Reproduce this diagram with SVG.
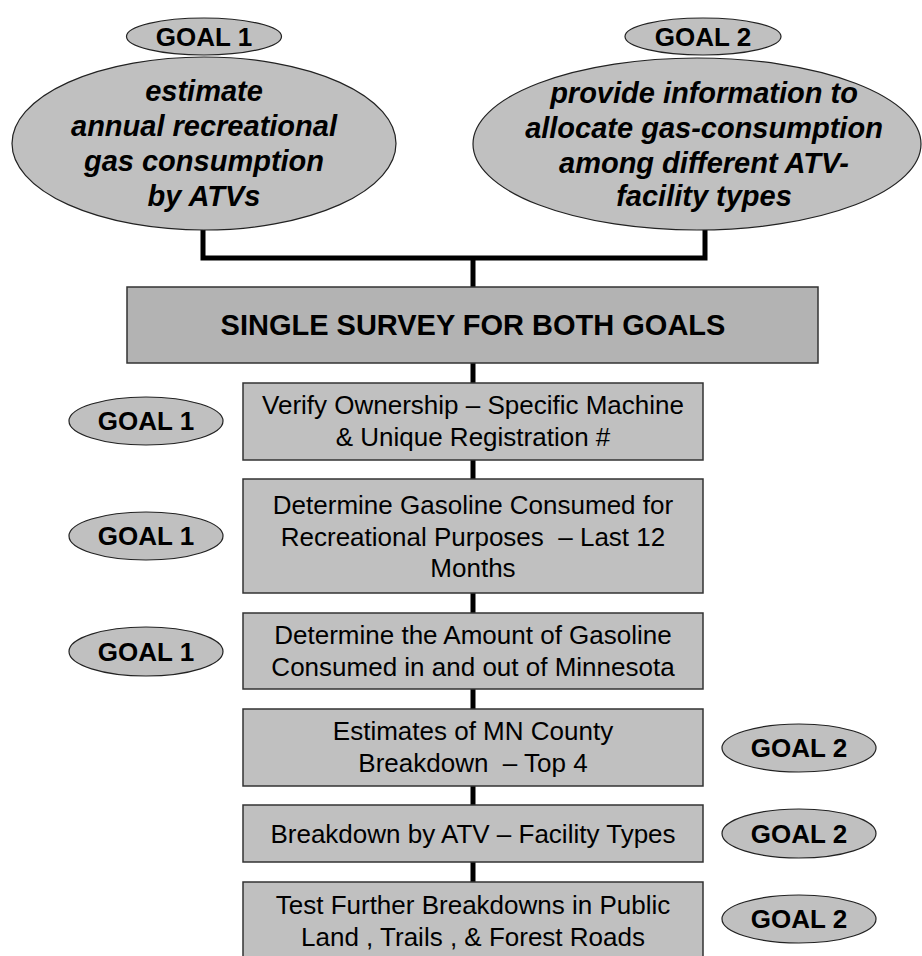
<svg xmlns="http://www.w3.org/2000/svg" width="922" height="956" viewBox="0 0 922 956">
<style>
.ell{fill:#c0c0c0;stroke:#222;stroke-width:1.2}
.box{fill:#c0c0c0;stroke:#333;stroke-width:1.5}
.main{fill:#b3b3b3;stroke:#333;stroke-width:1.5}
.goal{font-family:"Liberation Sans",Arial,sans-serif;font-weight:bold;font-size:26px;fill:#000;text-anchor:middle}
.big{font-family:"Liberation Sans",Arial,sans-serif;font-weight:bold;font-style:italic;font-size:29px;fill:#000;text-anchor:middle}
.title{font-family:"Liberation Sans",Arial,sans-serif;font-weight:bold;font-size:29px;fill:#000;text-anchor:middle}
.t{font-family:"Liberation Sans",Arial,sans-serif;font-size:26px;fill:#000;text-anchor:middle;white-space:pre}
.c{fill:none;stroke:#000;stroke-width:5}
</style>
<rect width="922" height="956" fill="#fff"/>
<g id="connectors">
<polyline class="c" points="203,230 203,258 705,258 705,230"/>
<line class="c" x1="473" y1="258" x2="473" y2="287"/>
<line class="c" x1="473" y1="363" x2="473" y2="383"/>
<line class="c" x1="473" y1="460" x2="473" y2="479"/>
<line class="c" x1="473" y1="593" x2="473" y2="613"/>
<line class="c" x1="473" y1="689" x2="473" y2="709"/>
<line class="c" x1="473" y1="786" x2="473" y2="805"/>
<line class="c" x1="473" y1="862" x2="473" y2="882"/>
</g>
<g id="goal1-top">
<ellipse class="ell" cx="204" cy="36.5" rx="77.5" ry="18.5"/>
<text class="goal" x="204" y="46">GOAL 1</text>
</g>
<g id="goal2-top">
<ellipse class="ell" cx="703" cy="36.5" rx="78" ry="18.5"/>
<text class="goal" x="703" y="46">GOAL 2</text>
</g>
<g id="goal1-desc">
<ellipse class="ell" cx="204" cy="143.5" rx="192" ry="86.5"/>
<text class="big" x="204" y="101">estimate</text>
<text class="big" x="204" y="136">annual recreational</text>
<text class="big" x="204" y="171">gas consumption</text>
<text class="big" x="204" y="206">by ATVs</text>
</g>
<g id="goal2-desc">
<ellipse class="ell" cx="697" cy="144" rx="224" ry="86"/>
<text class="big" x="704" y="103">provide information to</text>
<text class="big" x="704" y="138">allocate gas-consumption</text>
<text class="big" x="704" y="173">among different ATV-</text>
<text class="big" x="704" y="206">facility types</text>
</g>
<g id="survey">
<rect class="main" x="127" y="287" width="691" height="76"/>
<text class="title" x="473" y="335">SINGLE SURVEY FOR BOTH GOALS</text>
</g>
<g id="step1">
<rect class="box" x="243" y="383" width="460" height="77"/>
<text class="t" x="473" y="414">Verify Ownership – Specific Machine</text>
<text class="t" x="473" y="446">&amp; Unique Registration #</text>
</g>
<g id="step1-goal">
<ellipse class="ell" cx="146" cy="421" rx="77" ry="24"/>
<text class="goal" x="146" y="430">GOAL 1</text>
</g>
<g id="step2">
<rect class="box" x="243" y="479" width="460" height="114"/>
<text class="t" x="473" y="514">Determine Gasoline Consumed for</text>
<text class="t" x="473" y="546" xml:space="preserve">Recreational Purposes  – Last 12</text>
<text class="t" x="473" y="577">Months</text>
</g>
<g id="step2-goal">
<ellipse class="ell" cx="146" cy="536" rx="77" ry="24"/>
<text class="goal" x="146" y="545">GOAL 1</text>
</g>
<g id="step3">
<rect class="box" x="243" y="613" width="460" height="76"/>
<text class="t" x="473" y="644">Determine the Amount of Gasoline</text>
<text class="t" x="473" y="676">Consumed in and out of Minnesota</text>
</g>
<g id="step3-goal">
<ellipse class="ell" cx="146" cy="651.5" rx="77" ry="24.5"/>
<text class="goal" x="146" y="661">GOAL 1</text>
</g>
<g id="step4">
<rect class="box" x="243" y="709" width="460" height="77"/>
<text class="t" x="473" y="740">Estimates of MN County</text>
<text class="t" x="473" y="772" xml:space="preserve">Breakdown  – Top 4</text>
</g>
<g id="step4-goal">
<ellipse class="ell" cx="799" cy="748" rx="77" ry="24"/>
<text class="goal" x="799" y="757">GOAL 2</text>
</g>
<g id="step5">
<rect class="box" x="243" y="805" width="460" height="57"/>
<text class="t" x="473" y="843">Breakdown by ATV – Facility Types</text>
</g>
<g id="step5-goal">
<ellipse class="ell" cx="799" cy="833.5" rx="77" ry="24.5"/>
<text class="goal" x="799" y="843">GOAL 2</text>
</g>
<g id="step6">
<rect class="box" x="243" y="882" width="460" height="78"/>
<text class="t" x="473" y="914">Test Further Breakdowns in Public</text>
<text class="t" x="473" y="946">Land , Trails , &amp; Forest Roads</text>
</g>
<g id="step6-goal">
<ellipse class="ell" cx="799" cy="919" rx="77" ry="24"/>
<text class="goal" x="799" y="928">GOAL 2</text>
</g>
</svg>
